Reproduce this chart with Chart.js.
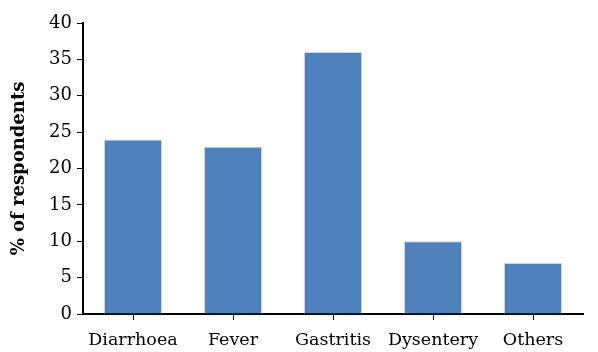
<!DOCTYPE html>
<html>
<head>
<meta charset="utf-8">
<script src="https://cdn.jsdelivr.net/npm/chart.js@4.4.0/dist/chart.umd.min.js"></script>
<style>
  html, body { margin: 0; padding: 0; background: #fff; }
  #wrap { width: 598px; height: 352px; }
</style>
</head>
<body>
<div id="wrap"><canvas id="chart"></canvas></div>
<script>
// illness categories and share of respondents (%)
const categories = ['Diarrhoea', 'Fever', 'Gastritis', 'Dysentery', 'Others'];
const respondents = [24, 23, 36, 10, 7];
const yTicks = [0, 5, 10, 15, 20, 25, 30, 35, 40];

const FONT = "'DejaVu Serif', 'Liberation Serif', serif";

const chart = new Chart(document.getElementById('chart').getContext('2d'), {
  type: 'bar',
  data: {
    labels: categories,
    datasets: [{
      data: respondents,
      backgroundColor: '#4F81BD',
      borderColor: '#C6D7EE',
      borderWidth: 1,
      barPercentage: 0.58,
      categoryPercentage: 1
    }]
  },
  options: {
    responsive: true,
    maintainAspectRatio: false,
    animation: false,
    layout: { padding: { top: 23, right: 15, left: 0, bottom: 0 } },
    plugins: { legend: { display: false }, tooltip: { enabled: false } },
    scales: {
      x: {
        offset: true,
        grid: { display: true, drawOnChartArea: false, drawTicks: true, tickLength: 6, color: '#000', offset: false },
        border: { display: true, color: '#000', width: 2 },
        ticks: { color: '#000', font: { family: FONT, size: 17.5 }, padding: 10, maxRotation: 0 },
        afterFit: (s) => { s.height = 38; }
      },
      y: {
        min: 0, max: 40,
        afterBuildTicks: (s) => { s.ticks = yTicks.map(v => ({ value: v })); },
        grid: { display: true, drawOnChartArea: false, drawTicks: true, tickLength: 6, color: '#000' },
        border: { display: true, color: '#000', width: 2 },
        ticks: { color: '#000', font: { family: FONT, size: 18 }, padding: 5 },
        title: { display: true, text: '% of respondents', color: '#000', font: { family: FONT, size: 18, weight: 'bold' }, padding: { top: 9, bottom: 0 } },
        afterFit: (s) => { s.width = 83; }
      }
    }
  }
});
</script>
</body>
</html>
